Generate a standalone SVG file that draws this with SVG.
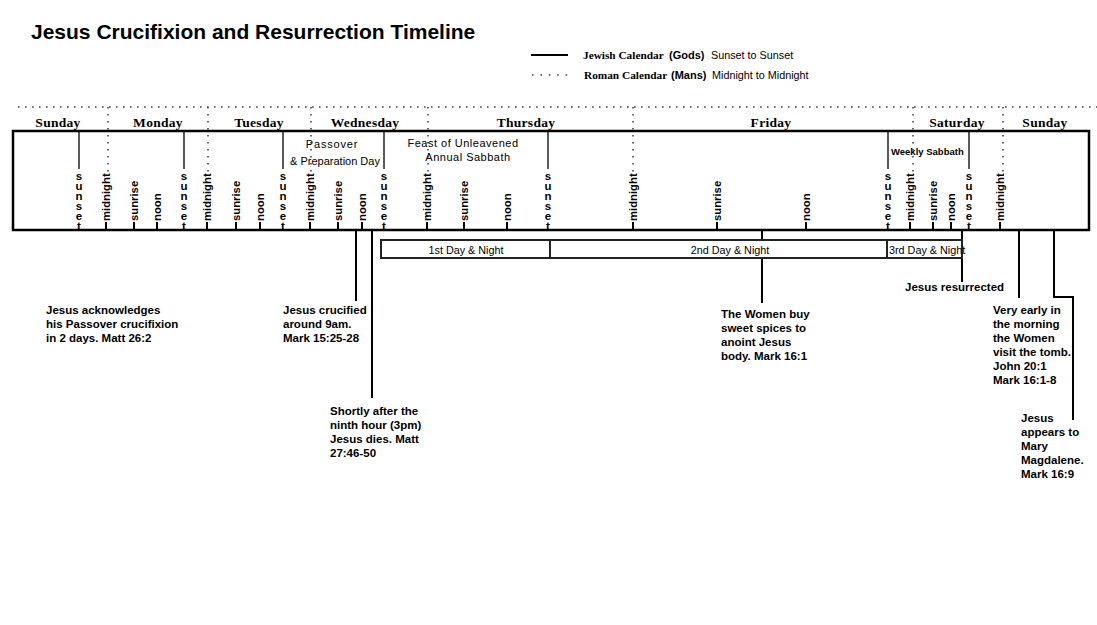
<svg xmlns="http://www.w3.org/2000/svg" width="1097" height="625" viewBox="0 0 1097 625">
<style>
.title{font-family:"Liberation Sans",Arial,sans-serif;font-weight:bold;font-size:21px;fill:#000}
.day{font-family:"Liberation Serif","Times New Roman",serif;font-weight:bold;font-size:13.5px;letter-spacing:0.3px;fill:#000;text-anchor:middle}
.lgs{font-family:"Liberation Serif","Times New Roman",serif;font-weight:bold;font-size:11.3px;fill:#000}
.lgb{font-family:"Liberation Sans",Arial,sans-serif;font-weight:bold;font-size:11px;fill:#000}
.lgr{font-family:"Liberation Sans",Arial,sans-serif;font-size:10.8px;fill:#000}
.rot{font-family:"Liberation Sans",Arial,sans-serif;font-weight:bold;font-size:11.3px;fill:#000}
.ss{font-family:"Liberation Sans",Arial,sans-serif;font-weight:bold;font-size:11.5px;fill:#000;writing-mode:vertical-rl;text-orientation:upright;letter-spacing:-2px}
.in{font-family:"Liberation Sans",Arial,sans-serif;font-size:11px;fill:#000;letter-spacing:0.5px;text-anchor:middle}
.wk{font-family:"Liberation Sans",Arial,sans-serif;font-weight:bold;font-size:9.5px;fill:#000}
.bar{font-family:"Liberation Sans",Arial,sans-serif;font-size:10.8px;fill:#000}
.note{font-family:"Liberation Sans",Arial,sans-serif;font-weight:bold;font-size:11.5px;fill:#000}
.dot{stroke:#444;stroke-width:1.6;stroke-dasharray:1.6 5.4;fill:none}
.solid{stroke:#000;fill:none}
.tick{stroke:#000;stroke-width:2}
.conn{stroke:#000;stroke-width:2;fill:none}
</style>

<g id="title">
<text class="title" x="31" y="39">Jesus Crucifixion and Resurrection Timeline</text>
</g>

<g id="legend">
<line class="solid" x1="531" y1="55" x2="568" y2="55" stroke-width="2"/>
<text y="59"><tspan class="lgs" x="583">Jewish Calendar</tspan><tspan class="lgb" x="669">(Gods)</tspan><tspan class="lgr" x="711">Sunset to Sunset</tspan></text>
<line class="dot" x1="532" y1="75" x2="568" y2="75" style="stroke-dasharray:1.6 6.8"/>
<text y="79"><tspan class="lgs" x="584">Roman Calendar</tspan><tspan class="lgb" x="671">(Mans)</tspan><tspan class="lgr" x="712">Midnight to Midnight</tspan></text>
</g>

<g id="roman-grid">
<line class="dot" x1="18" y1="107" x2="1097" y2="107"/>
<line class="dot" x1="108" y1="107" x2="108" y2="172"/>
<line class="dot" x1="208" y1="107" x2="208" y2="172"/>
<line class="dot" x1="311" y1="107" x2="311" y2="172"/>
<line class="dot" x1="428" y1="107" x2="428" y2="172"/>
<line class="dot" x1="633" y1="107" x2="633" y2="172"/>
<line class="dot" x1="913" y1="107" x2="913" y2="174"/>
<line class="dot" x1="1003" y1="107" x2="1003" y2="174"/>
</g>

<g id="day-labels">
<text class="day" x="58" y="127">Sunday</text>
<text class="day" x="158" y="127">Monday</text>
<text class="day" x="259" y="127">Tuesday</text>
<text class="day" x="365" y="127">Wednesday</text>
<text class="day" x="526" y="127">Thursday</text>
<text class="day" x="771" y="127">Friday</text>
<text class="day" x="957" y="127">Saturday</text>
<text class="day" x="1045" y="127">Sunday</text>
</g>

<g id="timeline-band">
<rect x="13" y="131" width="1076" height="99" fill="none" stroke="#000" stroke-width="2.5"/>
</g>

<g id="sunsets">
<g stroke="#000" stroke-width="1.3">
<line x1="79" y1="131" x2="79" y2="169"/>
<line x1="184" y1="131" x2="184" y2="169"/>
<line x1="283" y1="131" x2="283" y2="169"/>
<line x1="384" y1="131" x2="384" y2="169"/>
<line x1="548" y1="131" x2="548" y2="169"/>
<line x1="888" y1="131" x2="888" y2="169"/>
<line x1="969" y1="131" x2="969" y2="169"/>
</g>
<text class="ss" x="79" y="170">sunset</text>
<text class="ss" x="184" y="170">sunset</text>
<text class="ss" x="283" y="170">sunset</text>
<text class="ss" x="384" y="170">sunset</text>
<text class="ss" x="548" y="170">sunset</text>
<text class="ss" x="888" y="170">sunset</text>
<text class="ss" x="969" y="170">sunset</text>
</g>

<g id="hour-marks">
<g class="tick">
<line x1="106" y1="222" x2="106" y2="230"/>
<line x1="134" y1="222" x2="134" y2="230"/>
<line x1="157" y1="222" x2="157" y2="230"/>
<line x1="207" y1="222" x2="207" y2="230"/>
<line x1="236" y1="222" x2="236" y2="230"/>
<line x1="260" y1="222" x2="260" y2="230"/>
<line x1="310" y1="222" x2="310" y2="230"/>
<line x1="338" y1="222" x2="338" y2="230"/>
<line x1="362" y1="222" x2="362" y2="230"/>
<line x1="427" y1="222" x2="427" y2="230"/>
<line x1="464" y1="222" x2="464" y2="230"/>
<line x1="507" y1="222" x2="507" y2="230"/>
<line x1="633" y1="222" x2="633" y2="230"/>
<line x1="717" y1="222" x2="717" y2="230"/>
<line x1="806" y1="222" x2="806" y2="230"/>
<line x1="910" y1="222" x2="910" y2="230"/>
<line x1="933" y1="222" x2="933" y2="230"/>
<line x1="951" y1="222" x2="951" y2="230"/>
<line x1="1000" y1="222" x2="1000" y2="230"/>
</g>
<text class="rot" transform="translate(110,221) rotate(-90)">midnight</text>
<text class="rot" transform="translate(138,221) rotate(-90)">sunrise</text>
<text class="rot" transform="translate(161,221) rotate(-90)">noon</text>
<text class="rot" transform="translate(211,221) rotate(-90)">midnight</text>
<text class="rot" transform="translate(240,221) rotate(-90)">sunrise</text>
<text class="rot" transform="translate(264,221) rotate(-90)">noon</text>
<text class="rot" transform="translate(314,221) rotate(-90)">midnight</text>
<text class="rot" transform="translate(342,221) rotate(-90)">sunrise</text>
<text class="rot" transform="translate(366,221) rotate(-90)">noon</text>
<text class="rot" transform="translate(431,221) rotate(-90)">midnight</text>
<text class="rot" transform="translate(468,221) rotate(-90)">sunrise</text>
<text class="rot" transform="translate(511,221) rotate(-90)">noon</text>
<text class="rot" transform="translate(637,221) rotate(-90)">midnight</text>
<text class="rot" transform="translate(721,221) rotate(-90)">sunrise</text>
<text class="rot" transform="translate(810,221) rotate(-90)">noon</text>
<text class="rot" transform="translate(914,221) rotate(-90)">midnight</text>
<text class="rot" transform="translate(937,221) rotate(-90)">sunrise</text>
<text class="rot" transform="translate(955,221) rotate(-90)">noon</text>
<text class="rot" transform="translate(1004,221) rotate(-90)">midnight</text>
</g>

<g id="feast-labels">
<text class="in" x="332" y="148" style="letter-spacing:0.8px">Passover</text>
<text class="in" x="335" y="165" style="letter-spacing:0px">&amp; Preparation Day</text>
<text class="in" x="463" y="147">Feast of Unleavened</text>
<text class="in" x="468" y="161">Annual Sabbath</text>
<text class="wk" x="891" y="155">Weekly Sabbath</text>
</g>

<g id="connectors">
<line class="conn" x1="356" y1="230" x2="356" y2="301"/>
<line class="conn" x1="372" y1="230" x2="372" y2="398"/>
<line class="conn" x1="762" y1="230" x2="762" y2="303"/>
<line class="conn" x1="962" y1="230" x2="962" y2="282"/>
<line class="conn" x1="1019" y1="230" x2="1019" y2="298"/>
<polyline class="conn" points="1054,230 1054,297 1073,297 1073,420"/>
</g>

<g id="day-night-bar">
<rect x="381" y="240" width="581" height="18" fill="#fff" stroke="#222" stroke-width="2"/>
<line x1="550" y1="240" x2="550" y2="258" stroke="#222" stroke-width="2"/>
<line x1="887" y1="240" x2="887" y2="258" stroke="#222" stroke-width="2"/>
<text class="bar" x="466" y="254" text-anchor="middle">1st Day &amp; Night</text>
<text class="bar" x="730" y="254" text-anchor="middle">2nd Day &amp; Night</text>
<text class="bar" x="889" y="254">3rd Day &amp; Night</text>
</g>

<g id="note-passover">
<text class="note"><tspan x="46" y="314">Jesus acknowledges</tspan><tspan x="46" y="328">his Passover crucifixion</tspan><tspan x="46" y="342">in 2 days. Matt 26:2</tspan></text>
</g>
<g id="note-crucified">
<text class="note"><tspan x="283" y="314">Jesus crucified</tspan><tspan x="283" y="328">around 9am.</tspan><tspan x="283" y="342">Mark 15:25-28</tspan></text>
</g>
<g id="note-dies">
<text class="note"><tspan x="330" y="415">Shortly after the</tspan><tspan x="330" y="429">ninth hour (3pm)</tspan><tspan x="330" y="443">Jesus dies. Matt</tspan><tspan x="330" y="457">27:46-50</tspan></text>
</g>
<g id="note-spices">
<text class="note"><tspan x="721" y="318">The Women buy</tspan><tspan x="721" y="332">sweet spices to</tspan><tspan x="721" y="346">anoint Jesus</tspan><tspan x="721" y="360">body. Mark 16:1</tspan></text>
</g>
<g id="note-resurrected">
<text class="note" x="905" y="291">Jesus resurrected</text>
</g>
<g id="note-tomb">
<text class="note"><tspan x="993" y="314">Very early in</tspan><tspan x="993" y="328">the morning</tspan><tspan x="993" y="342">the Women</tspan><tspan x="993" y="356">visit the tomb.</tspan><tspan x="993" y="370">John 20:1</tspan><tspan x="993" y="384">Mark 16:1-8</tspan></text>
</g>
<g id="note-mary">
<text class="note"><tspan x="1021" y="422">Jesus</tspan><tspan x="1021" y="436">appears to</tspan><tspan x="1021" y="450">Mary</tspan><tspan x="1021" y="464">Magdalene.</tspan><tspan x="1021" y="478">Mark 16:9</tspan></text>
</g>
</svg>
